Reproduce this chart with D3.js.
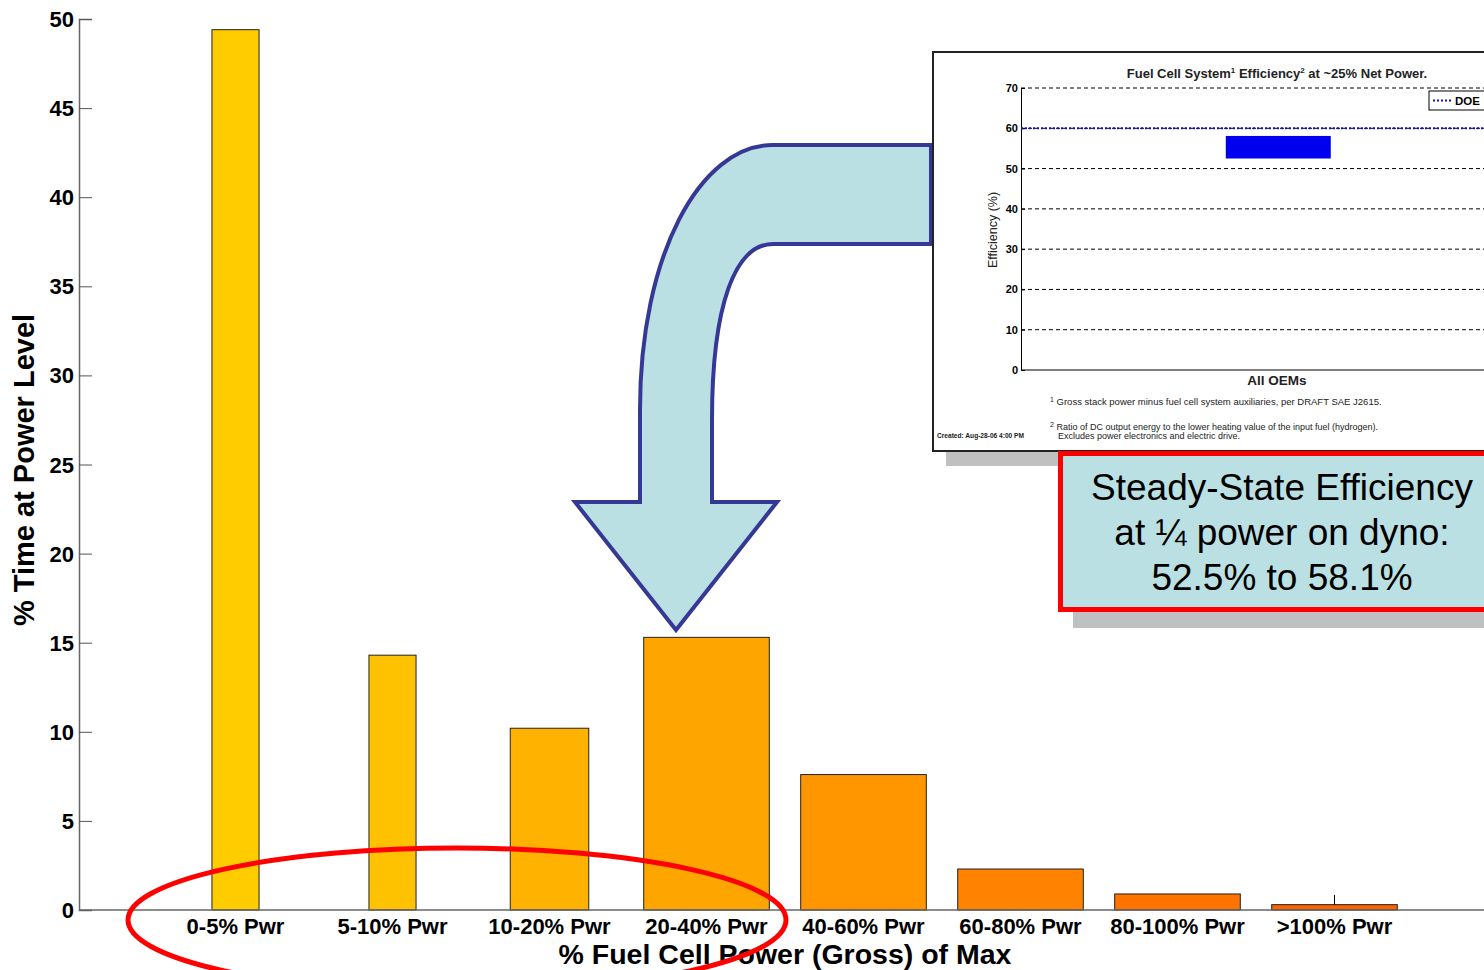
<!DOCTYPE html>
<html>
<head>
<meta charset="utf-8">
<script src="https://cdn.jsdelivr.net/npm/d3@7"></script>
<style>
  body { margin: 0; background: #fff; }
  svg { display: block; font-family: Arial, "Liberation Sans", sans-serif; }
</style>
</head>
<body>
<svg id="chart" width="1484" height="970"></svg>
<script>
// main chart data
var categories = ["0-5% Pwr", "5-10% Pwr", "10-20% Pwr", "20-40% Pwr", "40-60% Pwr", "60-80% Pwr", "80-100% Pwr", ">100% Pwr"];
var timePct = [49.4, 14.3, 10.2, 15.3, 7.6, 2.3, 0.9, 0.3];
var errHigh = [null, null, null, null, null, null, null, 0.85];
var yTicks = [0, 5, 10, 15, 20, 25, 30, 35, 40, 45, 50];

// inset data
var effTicks = [0, 10, 20, 30, 40, 50, 60, 70];
var doeTarget = 60;
var effRange = [52.5, 58.1];

// styling
var barColors = ["#FFCC00", "#FFC200", "#FFB200", "#FFA500", "#FF9600", "#FF8200", "#FF7400", "#FF6200"];
var barWidthFactor = [0.3, 0.3, 0.5, 0.8, 0.8, 0.8, 0.8, 0.8];

var svg = d3.select("#chart");

var x = d3.scaleLinear().domain([-1, 8]).range([78.5, 1491.5]);
var y = d3.scaleLinear().domain([0, 50]).range([910, 19]);
var step = x(1) - x(0);

// bars
svg.append("g").selectAll("rect").data(timePct).join("rect")
  .attr("x", (d, i) => x(i) - barWidthFactor[i] * step / 2)
  .attr("width", (d, i) => barWidthFactor[i] * step)
  .attr("y", d => y(d))
  .attr("height", d => y(0) - y(d))
  .attr("fill", (d, i) => barColors[i])
  .attr("stroke", "#222")
  .attr("stroke-width", 1);

// error bar on last bin
svg.append("g").selectAll("line").data(errHigh.map((e, i) => [e, i]).filter(p => p[0] != null)).join("line")
  .attr("x1", p => x(p[1])).attr("x2", p => x(p[1]))
  .attr("y1", p => y(timePct[p[1]])).attr("y2", p => y(p[0]))
  .attr("stroke", "#000").attr("stroke-width", 1);

// y axis (ticks pointing inward, matlab style)
var yAxis = svg.append("g").attr("transform", "translate(79,0)")
  .call(d3.axisRight(y).tickValues(yTicks).tickSize(13).tickFormat(""));
yAxis.select(".domain").attr("stroke", "#666").attr("stroke-width", 1.5);
yAxis.selectAll(".tick line").attr("stroke", "#555");

svg.append("g").selectAll("text").data(yTicks).join("text")
  .attr("x", 74).attr("y", d => y(d) + 8)
  .attr("text-anchor", "end")
  .attr("font-size", 22).attr("font-weight", "bold")
  .text(d => d);

// x baseline
svg.append("line").attr("x1", 79).attr("x2", 1484).attr("y1", y(0)).attr("y2", y(0))
  .attr("stroke", "#666").attr("stroke-width", 1.5);

svg.append("g").selectAll("text").data(categories).join("text")
  .attr("x", (d, i) => x(i)).attr("y", 933.5)
  .attr("text-anchor", "middle")
  .attr("font-size", 22).attr("font-weight", "bold")
  .text(d => d);

svg.append("text")
  .attr("transform", "translate(34,470) rotate(-90)")
  .attr("text-anchor", "middle")
  .attr("font-size", 29).attr("font-weight", "bold")
  .text("% Time at Power Level");

svg.append("text")
  .attr("x", 785).attr("y", 963.5)
  .attr("text-anchor", "middle")
  .attr("font-size", 28.5).attr("font-weight", "bold")
  .text("% Fuel Cell Power (Gross) of Max");

// curved arrow from inset to the 20-40% bar
var arrowPath = "M931,145 L773,145 C700,145 640,255 640,410 L640,502 L575,502 L676,630 L777,502 L712,502 " +
  "L712,420 C712,305 735,244 773,244 L931,244 Z";
svg.append("path").attr("d", arrowPath)
  .attr("fill", "#BBE0E3").attr("stroke", "#363895").attr("stroke-width", 4)
  .attr("stroke-linejoin", "miter");

// inset panel
var inset = svg.append("g");
inset.append("rect").attr("x", 946).attr("y", 66).attr("width", 600).attr("height", 400).attr("fill", "#C0C0C0");
inset.append("rect").attr("x", 933).attr("y", 52).attr("width", 600).attr("height", 399)
  .attr("fill", "#fff").attr("stroke", "#222").attr("stroke-width", 2);

var ey = d3.scaleLinear().domain([0, 70]).range([370, 88]);
var ex = d3.scaleLinear().domain([0, 1]).range([1021, 1533]);

inset.append("g").selectAll("line").data(effTicks.filter(t => t > 0)).join("line")
  .attr("x1", 1021).attr("x2", 1484)
  .attr("y1", d => ey(d)).attr("y2", d => ey(d))
  .attr("stroke", "#000").attr("stroke-width", 1).attr("stroke-dasharray", "4,3");

var eAxis = inset.append("g").attr("transform", "translate(1021,0)")
  .call(d3.axisRight(ey).tickValues(effTicks).tickSize(4).tickFormat(""));
eAxis.select(".domain").attr("stroke", "#000");
inset.append("line").attr("x1", 1021).attr("x2", 1484).attr("y1", ey(0)).attr("y2", ey(0)).attr("stroke", "#000");

inset.append("g").selectAll("text").data(effTicks).join("text")
  .attr("x", 1018).attr("y", d => ey(d) + 4)
  .attr("text-anchor", "end").attr("font-size", 11).attr("font-weight", "bold")
  .text(d => d);

// DOE target line
inset.append("line").attr("x1", 1021).attr("x2", 1484)
  .attr("y1", ey(doeTarget)).attr("y2", ey(doeTarget))
  .attr("stroke", "#1010D0").attr("stroke-width", 2).attr("stroke-dasharray", "2,2");

// efficiency range bar
inset.append("rect")
  .attr("x", ex(0.40)).attr("width", ex(0.605) - ex(0.40))
  .attr("y", ey(effRange[1])).attr("height", ey(effRange[0]) - ey(effRange[1]))
  .attr("fill", "#0000F0");

inset.append("text").attr("x", 1277).attr("y", 78).attr("text-anchor", "middle")
  .attr("font-size", 13).attr("font-weight", "bold").attr("fill", "#222")
  .html('Fuel Cell System<tspan dy="-5" font-size="8">1</tspan><tspan dy="5"> Efficiency</tspan><tspan dy="-5" font-size="8">2</tspan><tspan dy="5"> at ~25% Net Power.</tspan>');

inset.append("text").attr("transform", "translate(997,230) rotate(-90)")
  .attr("text-anchor", "middle").attr("font-size", 12.5).attr("fill", "#222")
  .text("Efficiency (%)");

inset.append("text").attr("x", 1277).attr("y", 385).attr("text-anchor", "middle")
  .attr("font-size", 13.5).attr("font-weight", "bold").attr("fill", "#222")
  .text("All OEMs");

inset.append("text").attr("x", 1050).attr("y", 405).attr("font-size", 9.5).attr("fill", "#222")
  .html('<tspan dy="-3" font-size="7">1</tspan><tspan dy="3"> Gross stack power minus fuel cell system auxiliaries, per DRAFT SAE J2615.</tspan>');
inset.append("text").attr("x", 1050).attr("y", 430).attr("font-size", 9).attr("fill", "#222")
  .html('<tspan dy="-3" font-size="7">2</tspan><tspan dy="3"> Ratio of DC output energy to the lower heating value of the input fuel (hydrogen).</tspan>');
inset.append("text").attr("x", 1058).attr("y", 439).attr("font-size", 9).attr("fill", "#222")
  .text("Excludes power electronics and electric drive.");
inset.append("text").attr("x", 937).attr("y", 438).attr("font-size", 6.6).attr("font-weight", "bold").attr("fill", "#222")
  .text("Created: Aug-28-06 4:00 PM");

// legend
inset.append("rect").attr("x", 1429).attr("y", 91).attr("width", 80).attr("height", 19)
  .attr("fill", "#fff").attr("stroke", "#000").attr("stroke-width", 1);
inset.append("line").attr("x1", 1433).attr("x2", 1452).attr("y1", 100.5).attr("y2", 100.5)
  .attr("stroke", "#1010D0").attr("stroke-width", 2).attr("stroke-dasharray", "2,2");
inset.append("text").attr("x", 1455).attr("y", 105).attr("font-size", 11.5).attr("font-weight", "bold").text("DOE");

// callout box
var callout = svg.append("g");
callout.append("rect").attr("x", 1073).attr("y", 466).attr("width", 500).attr("height", 162).attr("fill", "#C0C0C0");
callout.append("rect").attr("x", 1060.5).attr("y", 453.5).attr("width", 500).attr("height", 156)
  .attr("fill", "#BBE0E3").attr("stroke", "#FF0000").attr("stroke-width", 5);
callout.append("g").selectAll("text")
  .data(["Steady-State Efficiency", "at \u00BC power on dyno:", "52.5% to 58.1%"]).join("text")
  .attr("x", 1282).attr("y", (d, i) => 500 + i * 45)
  .attr("text-anchor", "middle").attr("font-size", 37)
  .text(d => d);

// red ellipse around the low-power bins
svg.append("ellipse").attr("cx", 457).attr("cy", 920).attr("rx", 329).attr("ry", 72)
  .attr("fill", "none").attr("stroke", "#FF0000").attr("stroke-width", 5);
</script>
</body>
</html>
